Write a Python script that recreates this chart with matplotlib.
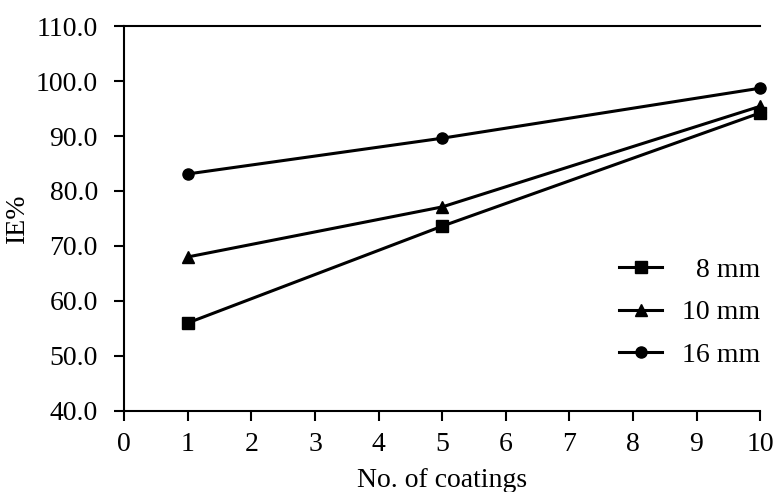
import matplotlib
matplotlib.use("Agg")
import matplotlib.pyplot as plt

# Data
coatings = [1, 5, 10]
ie_8mm = [56.0, 73.6, 94.2]
ie_10mm = [68.0, 77.1, 95.4]
ie_16mm = [83.1, 89.6, 98.7]

plt.rcParams['font.family'] = ['Liberation Serif', 'DejaVu Serif']

fig = plt.figure(figsize=(7.82, 4.92), dpi=100)
ax = fig.add_axes([0.159, 0.165, 0.813, 0.782])

ax.plot(coatings, ie_8mm, color="black", linewidth=2.2, marker="s", markersize=8,
        label="  8 mm", clip_on=False)
ax.plot(coatings, ie_10mm, color="black", linewidth=2.2, marker="^", markersize=9,
        label="10 mm", clip_on=False)
ax.plot(coatings, ie_16mm, color="black", linewidth=2.2, marker="o", markersize=8,
        label="16 mm", clip_on=False)

ax.set_xlim(0, 10)
ax.set_ylim(40, 110)
ax.set_xticks(range(0, 11))
ax.set_yticks(range(40, 111, 10))
ax.set_yticklabels([f"{v:.1f}" for v in range(40, 111, 10)])

ax.spines['right'].set_visible(False)
for s in ['left', 'bottom', 'top']:
    ax.spines[s].set_linewidth(1.5)
ax.tick_params(direction="out", length=7, width=1.5, labelsize=20)
ax.tick_params(axis="x", pad=8)
ax.tick_params(axis="y", pad=12)

ax.set_xlabel("No. of coatings", fontsize=20, labelpad=8)
ax.set_ylabel("IE%", fontsize=20, labelpad=4)

ax.legend(loc="center right", bbox_to_anchor=(1.0, 0.255), frameon=False,
          fontsize=20, handlelength=1.55, handletextpad=0.7, labelspacing=0.62,
          borderpad=0, borderaxespad=0)

fig.savefig("out.png", dpi=100)
